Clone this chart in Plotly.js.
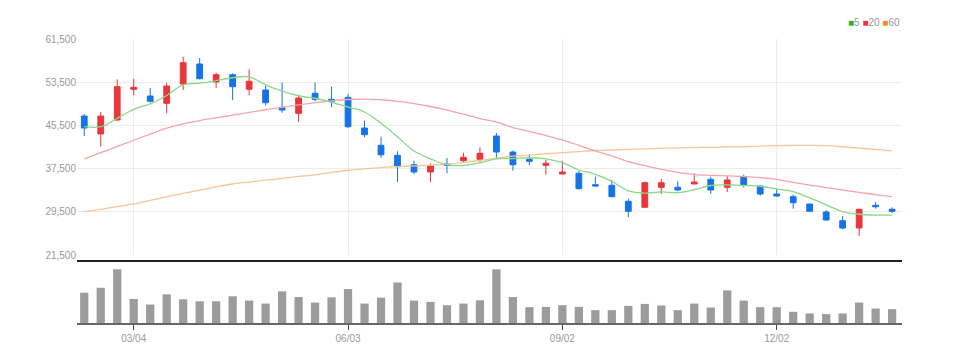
<!DOCTYPE html>
<html>
<head>
<meta charset="utf-8">
<script src="https://cdn.plot.ly/plotly-3.0.1.min.js"></script>
<style>
html,body{margin:0;padding:0;background:#fff;}
#chart{width:953px;height:363px;}
</style>
</head>
<body>
<div id="chart"></div>
<script>
// ---- data (weekly candles) ----
const dates = ['2024-02-12','2024-02-19','2024-02-26','2024-03-04','2024-03-11','2024-03-18','2024-03-25','2024-04-01','2024-04-08','2024-04-15',
'2024-04-22','2024-04-29','2024-05-06','2024-05-13','2024-05-20','2024-05-27','2024-06-03','2024-06-10','2024-06-17','2024-06-24',
'2024-07-01','2024-07-08','2024-07-15','2024-07-22','2024-07-29','2024-08-05','2024-08-12','2024-08-19','2024-08-26','2024-09-02',
'2024-09-09','2024-09-16','2024-09-23','2024-09-30','2024-10-07','2024-10-14','2024-10-21','2024-10-28','2024-11-04','2024-11-11',
'2024-11-18','2024-11-25','2024-12-02','2024-12-09','2024-12-16','2024-12-23','2024-12-30','2025-01-06','2025-01-13','2025-01-20'];

const open  = [47240,43907,46500,52185,50944,49592,53167,56870,53537,54889,
52185,52056,48852,47741,51444,50333,50704,45018,41815,39963,
38222,36870,38352,38963,39222,43537,40574,39222,38111,36500,
36630,34518,34407,31444,30333,34037,34037,34648,35518,34037,
36000,34278,32796,32296,30944,29463,27852,26500,30704,29963];
const high  = [47610,47981,54037,54148,52426,53407,58222,57981,55259,55148,
55889,53037,53407,50944,53407,52667,51315,46370,43407,40704,
38963,38481,39463,40444,41444,44093,40815,40204,39093,38963,
37111,36000,35389,31926,35148,35630,35148,36630,36000,36130,
36370,34400,33778,32667,30944,29833,28722,30074,31315,30333];
const low   = [43537,41555,46370,51074,49704,47740,52056,54037,52426,50204,
51074,49222,47852,46130,49963,48852,45018,43296,39463,35018,
36500,35018,36630,38722,38722,39222,37111,38111,36370,36500,
33667,34148,32185,28481,30333,32796,33296,34648,32796,33167,
34037,32500,32296,30074,29593,27852,26259,25018,30074,29222];
const close = [45018,47240,52667,52556,49963,52796,57111,54148,54889,52667,
53667,49704,48352,50574,50333,49963,45259,43778,40074,37852,
36870,37981,38111,39593,40333,40574,38222,38852,38481,36870,
33778,34278,32296,29593,34889,34889,33537,35019,33537,35389,
34407,32796,32426,31185,29593,27981,26500,29963,30444,29593];
const volume = [92,107,163,73,56,87,72,66,66,81,
68,59,96,79,62,78,103,59,77,123,
68,64,54,59,69,163,79,48,49,54,
49,39,39,52,58,53,39,59,47,99,
68,48,48,34,29,27,29,62,44,42];

// MA5 for the first four weeks (earlier closes are not in view)
const ma5Head = [45260,45260,46800,48480];
const ma20 = [39300,40450,41600,42750,43900,45000,45800,46400,46900,47400,
47900,48400,48850,49300,49700,50050,50300,50350,50250,49950,
49550,49000,48350,47600,46750,46100,45100,44400,43600,42800,
41800,40800,39850,38800,38050,37350,36800,36400,36250,36150,
36000,35830,35520,34960,34460,33960,33540,33110,32670,32300];
const ma60 = [29500,29950,30450,30950,31600,32250,32900,33500,34100,34650,
35000,35350,35700,36050,36350,36800,37200,37450,37700,37850,
38000,38150,38300,38650,39000,39450,39800,40000,40250,40450,
40650,40850,40950,41050,41150,41250,41350,41400,41450,41500,
41550,41650,41750,41800,41800,41750,41550,41300,41050,40800];

const maNames  = ['5','20','60'];
const maLineColors = ['#8ad88a','#f4a5aa','#f8c596'];
const maKeyColors  = ['#27b427','#ee3344','#f28c28'];

const yTicks = [21500,29500,37500,45500,53500,61500];
const xTickDates = ['2024-03-04','2024-06-03','2024-09-02','2024-12-02'];
const xTickLabels = ['03/04','06/03','09/02','12/02'];

// ---- derived ----
const ma5 = close.map((c,i)=>{
  if (i < 4) return ma5Head[i];
  let s = 0; for (let k=i-4;k<=i;k++) s += close[k];
  return s/5;
});

const RED = '#e8363a', BLUE = '#1673e6';
const FONT = '"Liberation Sans Narrow", "Liberation Sans", Arial, sans-serif';

const traces = [
  {type:'scatter', mode:'lines', x:dates, y:ma60, xaxis:'x', yaxis:'y',
   line:{color:maLineColors[2], width:1.3, shape:'spline'}, hoverinfo:'skip', showlegend:false},
  {type:'scatter', mode:'lines', x:dates, y:ma20, xaxis:'x', yaxis:'y',
   line:{color:maLineColors[1], width:1.3, shape:'spline'}, hoverinfo:'skip', showlegend:false},
  {type:'scatter', mode:'lines', x:dates, y:ma5, xaxis:'x', yaxis:'y',
   line:{color:maLineColors[0], width:1.3, shape:'spline'}, hoverinfo:'skip', showlegend:false},
  {type:'candlestick', x:dates, open:open, high:high, low:low, close:close, xaxis:'x', yaxis:'y',
   increasing:{line:{color:RED, width:1}, fillcolor:RED},
   decreasing:{line:{color:BLUE, width:1}, fillcolor:BLUE},
   whiskerwidth:0, showlegend:false},
  {type:'bar', x:dates, y:volume, xaxis:'x2', yaxis:'y2',
   marker:{color:'#9c9c9c', line:{width:0}}, showlegend:false}
];

const legendText = maNames.map((n,i)=>'<span style="color:'+maKeyColors[i]+'">■</span>'+n).join(' ');

const xr = [-0.44, dates.length - 0.4];
const layout = {
  width:953, height:363,
  margin:{l:77, r:51, t:39, b:40},
  paper_bgcolor:'#fff', plot_bgcolor:'#fff',
  font:{family:FONT, size:10, color:'#999'},
  showlegend:false,
  bargap:0.5,
  boxgap:0.5,
  xaxis:{type:'category', domain:[0,1], anchor:'y', range:xr,
    rangeslider:{visible:false},
    tickmode:'array', tickvals:xTickDates, ticktext:xTickLabels,
    showticklabels:false, ticks:'', showgrid:true, gridcolor:'#ececec', gridwidth:1,
    zeroline:false, showline:false, fixedrange:true},
  yaxis:{domain:[0.2394,1], anchor:'x', range:[yTicks[0], yTicks[yTicks.length-1]],
    tickmode:'array', tickvals:yTicks, tickformat:',d',
    ticks:'', showgrid:true, gridcolor:'#ececec', gridwidth:1, zeroline:false, showline:false,
    tickfont:{family:FONT, size:10, color:'#999'}, fixedrange:true},
  xaxis2:{type:'category', domain:[0,1], anchor:'y2', range:xr,
    tickmode:'array', tickvals:xTickDates, ticktext:xTickLabels,
    ticks:'outside', ticklen:5, tickwidth:1, tickcolor:'#444',
    showgrid:false, zeroline:false, showline:true, linecolor:'#666', linewidth:2,
    tickfont:{family:FONT, size:10, color:'#999'}, fixedrange:true},
  yaxis2:{domain:[0,0.2183], anchor:'x2', range:[0, Math.max(...volume)*62/53.7],
    showticklabels:false, showgrid:false, zeroline:false, showline:false, ticks:'', fixedrange:true},
  shapes:[{type:'line', xref:'paper', yref:'paper', x0:0, x1:1, y0:0.2183, y1:0.2183,
    line:{color:'#222', width:2}}],
  annotations:[{xref:'paper', yref:'paper', x:1, y:1, xanchor:'right', yanchor:'bottom', yshift:9,
    text:legendText, showarrow:false, font:{family:FONT, size:10, color:'#999'}}]
};

Plotly.newPlot('chart', traces, layout, {displayModeBar:false, staticPlot:true});
</script>
</body>
</html>
